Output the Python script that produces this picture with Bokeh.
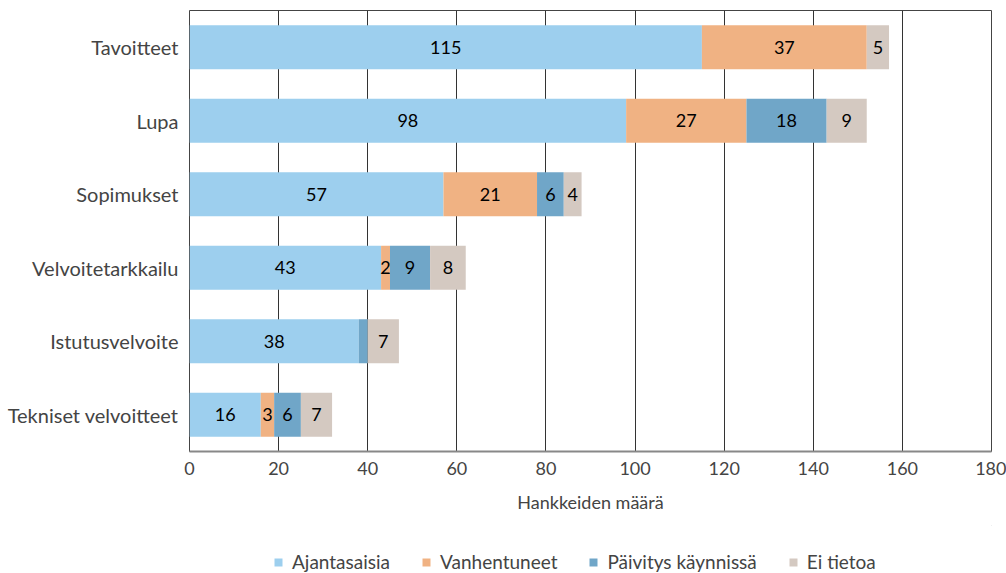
from bokeh.plotting import figure
from bokeh.layouts import column
from bokeh.models import FactorRange, Range1d, Legend, LegendItem, ColumnDataSource, FixedTicker
from bokeh.core.properties import value
from bokeh.embed import file_html
from bokeh.resources import INLINE

categories = ["Tavoitteet", "Lupa", "Sopimukset", "Velvoitetarkkailu",
              "Istutusvelvoite", "Tekniset velvoitteet"]
series_names = ["Ajantasaisia", "Vanhentuneet", "Päivitys käynnissä", "Ei tietoa"]
ajantasaisia = [115, 98, 57, 43, 38, 16]
vanhentuneet = [37, 27, 21, 2, 0, 3]
paivitys = [0, 18, 6, 9, 2, 6]
ei_tietoa = [5, 9, 4, 8, 7, 7]
x_ticks = [0, 20, 40, 60, 80, 100, 120, 140, 160, 180]
hidden_labels = [("Istutusvelvoite", "Päivitys käynnissä")]

colors = ["#9dcfee", "#f0b283", "#70a6c8", "#d4c9c1"]
FONT = "Lato"

series = [ajantasaisia, vanhentuneet, paivitys, ei_tietoa]

p = figure(width=1006, height=525, output_backend="svg", toolbar_location=None,
           y_range=FactorRange(factors=list(reversed(categories)), range_padding=0),
           x_range=Range1d(0, 180))
p.min_border_top = 10
p.min_border_right = 15
p.min_border_left = 189
p.min_border_bottom = 74

left = [0] * len(categories)
for name, vals, col in zip(series_names, series, colors):
    right = [l + v for l, v in zip(left, vals)]
    src = ColumnDataSource(dict(y=categories, left=left, right=right))
    p.hbar(y="y", left="left", right="right", height=0.6, source=src,
           fill_color=col, line_color=None)
    lx, ly, lt = [], [], []
    for c, l, v in zip(categories, left, vals):
        if v > 0 and (c, name) not in hidden_labels:
            lx.append(l + v / 2)
            ly.append(c)
            lt.append(str(v))
    p.text(x=lx, y=ly, text=lt, text_align="center", text_baseline="middle",
           text_font=value(FONT), text_font_size="18px", text_color="#000000")
    left = right

p.xaxis.ticker = FixedTicker(ticks=x_ticks)
p.xgrid.ticker = FixedTicker(ticks=x_ticks)
p.xgrid.grid_line_color = "#333333"
p.xgrid.grid_line_width = 1
p.ygrid.grid_line_color = None
p.outline_line_color = "#444444"
p.outline_line_width = 1

p.xaxis.axis_label = "Hankkeiden määrä"
p.xaxis.axis_label_text_font = FONT
p.xaxis.axis_label_text_font_style = "normal"
p.xaxis.axis_label_text_font_size = "18px"
p.xaxis.axis_label_standoff = 13
p.xaxis.major_label_text_font = FONT
p.xaxis.major_label_text_font_size = "18px"
p.xaxis.major_label_standoff = 10
p.xaxis.major_tick_in = 0
p.xaxis.major_tick_out = 0
p.xaxis.minor_tick_in = 0
p.xaxis.minor_tick_out = 0
p.xaxis.axis_line_color = "#888888"
p.xaxis.axis_line_width = 2

p.yaxis.major_label_text_font = FONT
p.yaxis.major_label_text_font_size = "20px"
p.yaxis.major_label_standoff = 11
p.yaxis.major_tick_in = 0
p.yaxis.major_tick_out = 0
p.yaxis.axis_line_color = None

# legend strip below the chart
pl = figure(width=1006, height=48, output_backend="svg", toolbar_location=None,
            x_range=Range1d(0, 1), y_range=Range1d(0, 1))
pl.axis.visible = False
pl.grid.visible = False
pl.outline_line_color = None
pl.min_border = 0
leg_renderers = []
for col in colors:
    leg_renderers.append(pl.hbar(y=[5], left=[5], right=[6], height=1,
                                 fill_color=col, line_color=None))
legend = Legend(items=[LegendItem(label=n, renderers=[r]) for n, r in zip(series_names, leg_renderers)],
                orientation="horizontal", location=(84, 0))
legend.label_text_font = FONT
legend.label_text_font_size = "19px"
legend.glyph_width = 10
legend.glyph_height = 10
legend.label_standoff = 9
legend.spacing = 31
legend.border_line_color = None
legend.background_fill_alpha = 0
legend.margin = 0
legend.padding = 0
pl.add_layout(legend, "center")

layout = column(p, pl, spacing=0)
open("out.html", "w").write(file_html(layout, INLINE))
